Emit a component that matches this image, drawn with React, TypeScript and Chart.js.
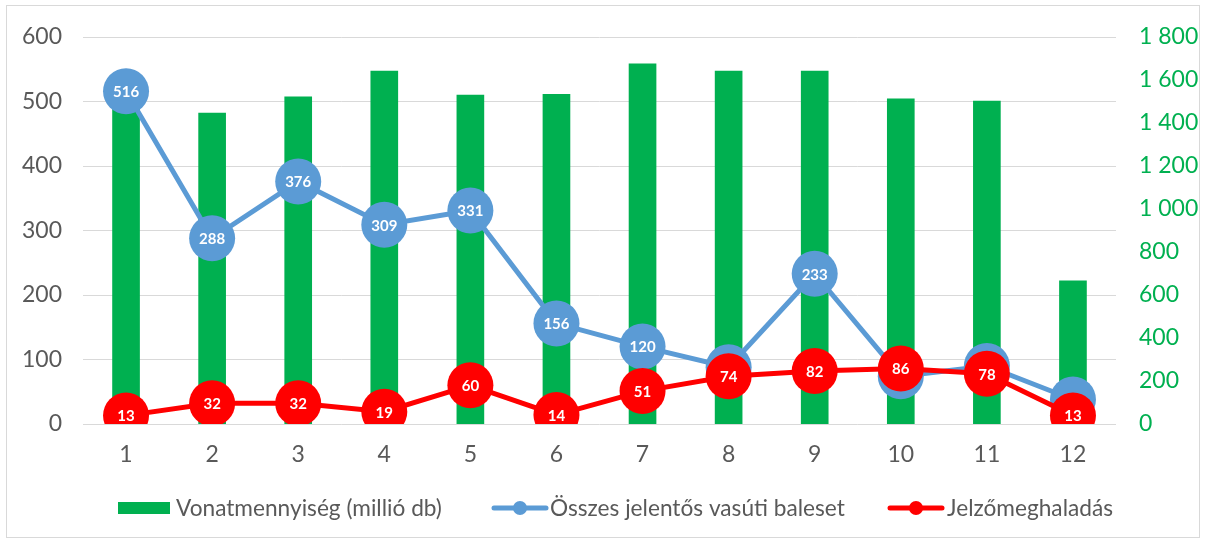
import React, { useEffect, useRef } from "react";
import { Chart, registerables } from "chart.js";

Chart.register(...registerables);

const categories = ["1", "2", "3", "4", "5", "6", "7", "8", "9", "10", "11", "12"];
const trainVolume = [1540, 1446, 1522, 1641, 1530, 1533, 1675, 1641, 1642, 1512, 1502, 666];
const totalAccidents = [516, 288, 376, 309, 331, 156, 120, 88, 233, 74, 90, 38];
const spads = [13, 32, 32, 19, 60, 14, 51, 74, 82, 86, 78, 13];

const seriesNames = ["Vonatmennyiség (millió db)", "Összes jelentős vasúti baleset", "Jelzőmeghaladás"];
const leftMax = 600;
const leftStep = 100;
const rightMax = 1800;
const rightStep = 200;

const GREEN = "#00B050";
const BLUE = "#5B9BD5";
const RED = "#FF0000";
const GRAY_TEXT = "#595959";
const GRID = "#D9D9D9";
const FONT = "Lato, 'Open Sans', sans-serif";

const fmtThousands = (v: number) => {
  if (v >= 1000) {
    return `${Math.floor(v / 1000)} ${String(v % 1000).padStart(3, "0")}`;
  }
  return String(v);
};

const labelPlugin = {
  id: "pointLabels",
  afterDatasetDraw(chart: any, args: any) {
    const ds = chart.data.datasets[args.index];
    if (ds.type !== "line") return;
    const ctx = chart.ctx;
    ctx.save();
    ctx.fillStyle = "#FFFFFF";
    ctx.font = `bold 15px ${FONT}`;
    ctx.textAlign = "center";
    ctx.textBaseline = "middle";
    args.meta.data.forEach((pt: any, i: number) => {
      ctx.fillText(String(ds.data[i]), pt.x, pt.y + 1);
    });
    ctx.restore();
  },
};

const frameAndLegendPlugin = {
  id: "frameLegend",
  beforeDraw(chart: any) {
    const ctx = chart.ctx;
    ctx.save();
    ctx.fillStyle = "#FFFFFF";
    ctx.fillRect(0, 0, chart.width, chart.height);
    ctx.strokeStyle = GRID;
    ctx.lineWidth = 1;
    ctx.strokeRect(6.5, 5.5, 1193, 532);
    ctx.restore();
  },
  afterDraw(chart: any) {
    const ctx = chart.ctx;
    const y = 508;
    const items = [
      { kind: "bar", color: GREEN, x: 118, textX: 176, target: 266 },
      { kind: "line", color: BLUE, x: 492, textX: 550, target: 288 },
      { kind: "line", color: RED, x: 888, textX: 947, target: 163 },
    ];
    ctx.save();
    ctx.font = `23px ${FONT}`;
    const w0 = ctx.measureText(seriesNames[0]).width;
    const size = Math.min(23, 23 * 266 / w0);
    ctx.font = `${size}px ${FONT}`;
    ctx.textBaseline = "middle";
    ctx.textAlign = "left";
    items.forEach((it, i) => {
      if (it.kind === "bar") {
        ctx.fillStyle = it.color;
        ctx.fillRect(it.x, y - 6, 52, 12);
      } else {
        ctx.strokeStyle = it.color;
        ctx.lineWidth = 5;
        ctx.lineCap = "round";
        ctx.beginPath();
        ctx.moveTo(it.x + 2, y);
        ctx.lineTo(it.x + 54, y);
        ctx.stroke();
        ctx.fillStyle = it.color;
        ctx.beginPath();
        ctx.arc(it.x + 28, y, 7, 0, Math.PI * 2);
        ctx.fill();
      }
      ctx.fillStyle = GRAY_TEXT;
      ctx.fillText(seriesNames[i], it.textX, y + 1);
    });
    ctx.restore();
  },
};

export default function App() {
  const canvasRef = useRef<HTMLCanvasElement | null>(null);

  useEffect(() => {
    const canvas = canvasRef.current;
    if (!canvas) return;
    const chart = new Chart(canvas, {
      type: "bar",
      data: {
        labels: categories,
        datasets: [
          {
            type: "line",
            label: seriesNames[2],
            data: spads,
            yAxisID: "y",
            borderColor: RED,
            backgroundColor: RED,
            borderWidth: 5,
            pointRadius: 23,
            pointHoverRadius: 23,
            pointBorderWidth: 0,
            pointBackgroundColor: RED,
            tension: 0,
            order: 1,
          } as any,
          {
            type: "line",
            label: seriesNames[1],
            data: totalAccidents,
            yAxisID: "y",
            borderColor: BLUE,
            backgroundColor: BLUE,
            borderWidth: 5,
            pointRadius: 23,
            pointHoverRadius: 23,
            pointBorderWidth: 0,
            pointBackgroundColor: BLUE,
            tension: 0,
            order: 2,
          } as any,
          {
            type: "bar",
            label: seriesNames[0],
            data: trainVolume,
            yAxisID: "y1",
            backgroundColor: GREEN,
            borderWidth: 0,
            barThickness: 27,
            order: 3,
          } as any,
        ],
      },
      options: {
        responsive: false,
        animation: false,
        events: [],
        layout: { padding: { top: 37, bottom: 68, left: 0, right: 0 } },
        plugins: {
          legend: { display: false },
          tooltip: { enabled: false },
        },
        scales: {
          x: {
            grid: { display: false, drawTicks: false },
            border: { display: false },
            ticks: {
              color: GRAY_TEXT,
              font: { family: FONT, size: 23 },
              padding: 17,
              maxRotation: 0,
            },
            afterFit: (s: any) => {
              s.height = 50;
            },
          },
          y: {
            position: "left",
            min: 0,
            max: leftMax,
            grid: { color: GRID, lineWidth: 1, drawTicks: false },
            border: { display: false },
            ticks: {
              stepSize: leftStep,
              color: GRAY_TEXT,
              font: { family: FONT, size: 23 },
              padding: 21,
            },
            afterFit: (s: any) => {
              s.width = 83;
            },
          },
          y1: {
            position: "right",
            min: 0,
            max: rightMax,
            grid: { display: false, drawTicks: false },
            border: { display: false },
            ticks: {
              stepSize: rightStep,
              color: GREEN,
              font: { family: FONT, size: 23 },
              padding: 23,
              callback: (v: any) => fmtThousands(Number(v)),
            },
            afterFit: (s: any) => {
              s.width = 90;
            },
          },
        },
      } as any,
      plugins: [labelPlugin, frameAndLegendPlugin],
    });
    return () => chart.destroy();
  }, []);

  return (
    <div style={{ position: "absolute", left: 0, top: 0, width: 1206, height: 542 }}>
      <canvas ref={canvasRef} width={1206} height={542} style={{ display: "block" }} />
    </div>
  );
}
